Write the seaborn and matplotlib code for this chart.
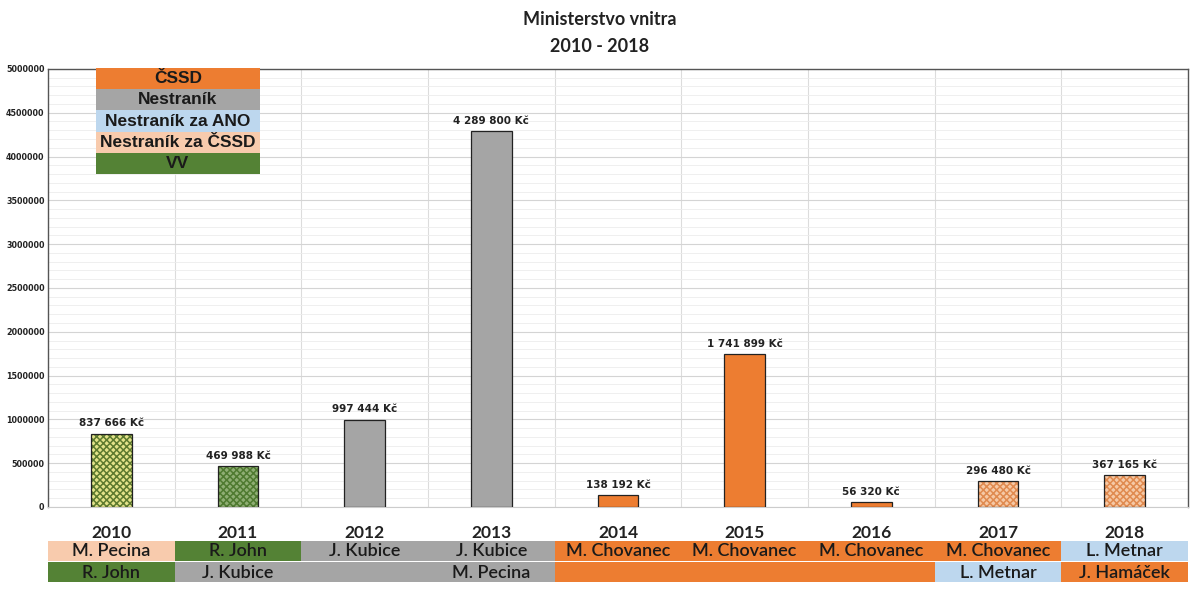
import matplotlib
matplotlib.use("Agg")
import matplotlib.pyplot as plt
from matplotlib.patches import Rectangle
from matplotlib.ticker import MultipleLocator, FuncFormatter
import seaborn as sns
import pandas as pd

# data
years = ["2010", "2011", "2012", "2013", "2014", "2015", "2016", "2017", "2018"]
amounts = [837666, 469988, 997444, 4289800, 138192, 1741899, 56320, 296480, 367165]
amount_labels = ["837 666 Kč", "469 988 Kč", "997 444 Kč", "4 289 800 Kč", "138 192 Kč",
                 "1 741 899 Kč", "56 320 Kč", "296 480 Kč", "367 165 Kč"]
# minister rows under each year: (name, party)
ministers_row1 = [("M. Pecina", "Nestraník za ČSSD"), ("R. John", "VV"), ("J. Kubice", "Nestraník"),
                  ("J. Kubice", "Nestraník"), ("M. Chovanec", "ČSSD"), ("M. Chovanec", "ČSSD"),
                  ("M. Chovanec", "ČSSD"), ("M. Chovanec", "ČSSD"), ("L. Metnar", "Nestraník za ANO")]
ministers_row2 = [("R. John", "VV"), ("J. Kubice", "Nestraník"), ("", "Nestraník"),
                  ("M. Pecina", "Nestraník"), ("", "ČSSD"), ("", "ČSSD"),
                  ("", "ČSSD"), ("L. Metnar", "Nestraník za ANO"), ("J. Hamáček", "ČSSD")]
parties = ["ČSSD", "Nestraník", "Nestraník za ANO", "Nestraník za ČSSD", "VV"]

party_colors = {
    "ČSSD": "#ED7D31",
    "Nestraník": "#A5A5A5",
    "Nestraník za ANO": "#BDD7EE",
    "Nestraník za ČSSD": "#F8CBAD",
    "VV": "#548235",
}
# bar fill: (face, hatch colour or None)
bar_style = [("#e3e38a", "#5d7a2e"), ("#8fae74", "#4f7a30"), ("#A5A5A5", None), ("#A5A5A5", None),
             ("#ED7D31", None), ("#ED7D31", None), ("#ED7D31", None),
             ("#f6c9a6", "#e08a4f"), ("#f6c9a6", "#e08a4f")]

df = pd.DataFrame({"year": years, "amount": amounts})

sns.set_style("white")
plt.rcParams["font.family"] = ["DejaVu Sans"]
plt.rcParams["hatch.linewidth"] = 1.1

fig = plt.figure(figsize=(12, 5.9), dpi=100)
ax = fig.add_axes([0.04, 0.1407, 0.95, 0.7425])

sns.barplot(data=df, x="year", y="amount", ax=ax, width=0.32, color="#A5A5A5",
            edgecolor="#222222", linewidth=0.9, zorder=3)

for patch, (face, hcol) in zip(ax.patches, bar_style):
    patch.set_facecolor(face)
    if hcol:
        patch.set_hatch("xxxxx")
        patch._hatch_color = matplotlib.colors.to_rgba(hcol)

for i, (v, lab) in enumerate(zip(amounts, amount_labels)):
    ax.text(i, v + 60000, lab, ha="center", va="bottom", fontsize=7.5,
            fontweight="bold", color="#222222")

ax.set_ylim(0, 5000000)
ax.set_xlim(-0.5, len(years) - 0.5)
ax.yaxis.set_major_locator(MultipleLocator(500000))
ax.yaxis.set_minor_locator(MultipleLocator(100000))
ax.yaxis.set_major_formatter(FuncFormatter(lambda v, p: f"{int(round(v))}"))
ax.grid(axis="y", which="major", color="#d4d4d4", linewidth=0.8, zorder=0)
ax.grid(axis="y", which="minor", color="#ececec", linewidth=0.6, zorder=0)
for b in range(1, len(years)):
    ax.axvline(b - 0.5, color="#dcdcdc", linewidth=0.8, zorder=0)
ax.set_axisbelow(True)

ax.set_xlabel("")
ax.set_ylabel("")
ax.tick_params(axis="y", which="both", labelsize=5.8, length=0, pad=2.5)
for t in ax.get_yticklabels():
    t.set_fontweight("bold")
    t.set_color("#222222")
ax.tick_params(axis="x", length=0, pad=13)
ax.set_xticks(range(len(years)))
ax.set_xticklabels(years, fontsize=12.5, fontweight="bold", family="Lato", color="#222222")

for side in ["left", "top", "right"]:
    ax.spines[side].set_color("#555555")
    ax.spines[side].set_linewidth(1.0)
ax.spines["bottom"].set_color("#cccccc")

fig.suptitle("Ministerstvo vnitra\n2010 - 2018", y=0.982, fontsize=13, fontweight="bold",
             family="Lato", linespacing=1.75, color="#222222")

# legend stripes
leg_x0, leg_x1 = 0.042, 0.186
stripe_h = 0.0484
for k, party in enumerate(parties):
    y0 = 1.002 - (k + 1) * stripe_h
    ax.add_patch(Rectangle((leg_x0, y0), leg_x1 - leg_x0, stripe_h, transform=ax.transAxes,
                           facecolor=party_colors[party], edgecolor="none", zorder=5,
                           clip_on=False))
    ax.text((leg_x0 + leg_x1) / 2, y0 + stripe_h / 2, party, transform=ax.transAxes,
            ha="center", va="center", fontsize=12.5, fontweight="bold", color="#1a1a1a",
            family="Liberation Sans", zorder=6)

# minister table under the years
tr = matplotlib.transforms.blended_transform_factory(ax.transData, fig.transFigure)
row_h = 21 / 590
rows_top = 1 - 541 / 590
for r, row in enumerate([ministers_row1, ministers_row2]):
    y0 = rows_top - (r + 1) * row_h
    for i, (name, party) in enumerate(row):
        fig.add_artist(Rectangle((i - 0.5, y0 + 0.002), 1.0, row_h - 0.002, transform=tr,
                                 facecolor=party_colors[party], edgecolor="none"))
        if name:
            fig.text(i, y0 + row_h / 2, name, transform=tr, ha="center", va="center",
                     fontsize=13, family="Lato", fontweight="semibold", color="#1a1a1a")

fig.savefig("out.png", dpi=100, facecolor="white")
